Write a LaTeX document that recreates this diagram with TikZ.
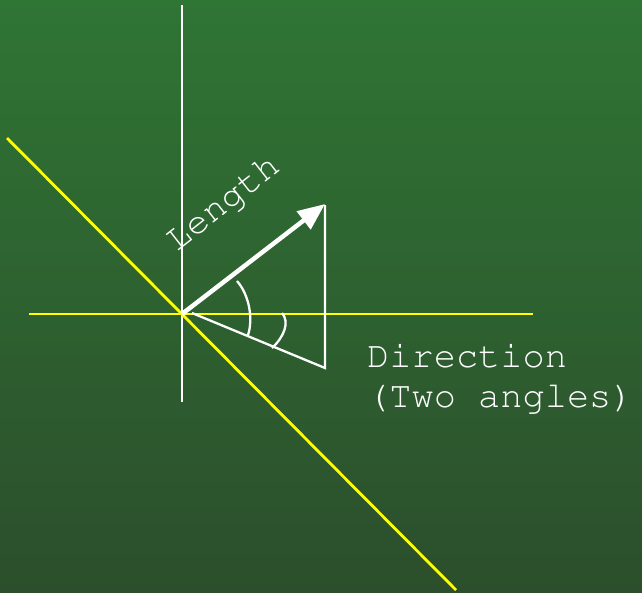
\documentclass[tikz,border=0pt]{standalone}
\usepackage[T1]{fontenc}
\usetikzlibrary{arrows.meta}
\definecolor{bgtop}{RGB}{47,117,52}
\definecolor{bgbot}{RGB}{44,78,44}
\definecolor{yel}{RGB}{255,255,0}
\tikzset{
  wline/.style={white, line width=2.3pt},
  yline/.style={yel, line width=2.8pt},
  lbl/.style={white, font=\fontfamily{pcr}\fontsize{37}{40}\selectfont, inner sep=0pt},
}
\begin{document}
\begin{tikzpicture}[x=1pt,y=-1pt]
\shade[top color=bgtop, bottom color=bgbot] (0,0) rectangle (642,592);
\useasboundingbox (0,0) rectangle (642,592);
\coordinate (O) at (182,314);
\coordinate (vt) at (182,5);
\coordinate (vb) at (182,402);
\coordinate (hl) at (29,314);
\coordinate (hr) at (533,314);
\coordinate (dl) at (7,138);
\coordinate (dr) at (456,590);
\coordinate (tip) at (325,204);
\coordinate (top) at (325,205);
\coordinate (bot) at (325,368);
\coordinate (ls) at (192,313);
% axes
\draw[wline] (vt) -- (vb);
\draw[yline] (hl) -- (hr);
\draw[yline] (dl) -- (dr);
% triangle
\draw[wline] (top) -- (bot) -- (ls);
% arcs
\draw[wline] (237,281) .. controls (250,296) and (253,320) .. (248,335);
\draw[wline] (282,313) .. controls (290,322) and (284,337) .. (272,348);
% arrow
\draw[white, line width=4.5pt, -{Triangle[length=27pt,width=22pt]}] (O) -- (tip);
% labels
\node[lbl, rotate=38, anchor=base] (len) at (229,211) {Length};
\node[lbl, anchor=base west] (dir) at (367,367) {Direction};
\node[lbl, anchor=base west] (two) at (367,407) {(Two angles)};
\end{tikzpicture}
\end{document}
